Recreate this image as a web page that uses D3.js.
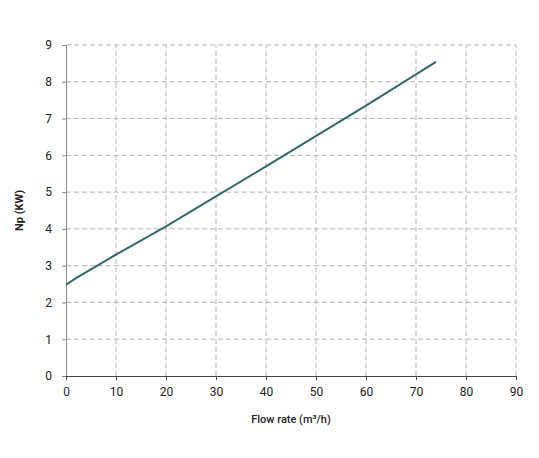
<!DOCTYPE html>
<html><head><meta charset="utf-8">
<script src="https://cdn.jsdelivr.net/npm/d3@7"></script>
<style>body{margin:0;background:#fff;font-family:Roboto,sans-serif}</style>
</head><body><svg id="c" width="539" height="458"></svg>
<script>
const flowRate = [0, 2, 10, 20, 40, 60, 74];
const power = [2.48, 2.66, 3.3, 4.07, 5.7, 7.35, 8.54];
const xTicks = [0,10,20,30,40,50,60,70,80,90];
const yTicks = [0,1,2,3,4,5,6,7,8,9];

const svg = d3.select("#c");
const m = {l:66, r:23, t:45, b:82};
const W = 539, H = 458;
const x = d3.scaleLinear().domain([0,90]).range([m.l, W-m.r]);
const y = d3.scaleLinear().domain([0,9]).range([H-m.b, m.t]);

// grid
const g = svg.append("g");
g.selectAll("line.v").data(xTicks.slice(1)).enter().append("line")
 .attr("x1",d=>x(d)).attr("x2",d=>x(d)).attr("y1",y(0)).attr("y2",y(9))
 .attr("stroke","#b4b4b4").attr("stroke-dasharray","5,3").attr("stroke-width",1);
g.selectAll("line.h").data(yTicks.slice(1)).enter().append("line")
 .attr("x1",x(0)).attr("x2",x(90)).attr("y1",d=>y(d)).attr("y2",d=>y(d))
 .attr("stroke","#b4b4b4").attr("stroke-dasharray","5,3").attr("stroke-width",1);

// axes
const ya = svg.append("g").attr("transform",`translate(${x(0)},0)`)
 .call(d3.axisLeft(y).tickValues(yTicks).tickSize(4).tickPadding(10));
ya.select(".domain").attr("stroke","#8a8a8a");
ya.selectAll(".tick line").attr("stroke","#8a8a8a");
ya.selectAll("text").attr("font-family","Roboto").attr("font-size",12).attr("fill","#222");

const xa = svg.append("g").attr("transform",`translate(0,${y(0)})`)
 .call(d3.axisBottom(x).tickValues(xTicks).tickSize(4).tickPadding(7));
xa.select(".domain").attr("stroke","#444");
xa.selectAll(".tick line").attr("stroke","#444");
xa.selectAll("text").attr("font-family","Roboto").attr("font-size",12).attr("fill","#222");

// line
const data = flowRate.map((f,i)=>[f,power[i]]);
svg.append("path").datum(data)
 .attr("d", d3.line().x(d=>x(d[0])).y(d=>y(d[1])))
 .attr("fill","none").attr("stroke","#2e6a6c").attr("stroke-width",2);

// labels
svg.append("text").attr("x",(x(0)+x(90))/2).attr("y",423).attr("text-anchor","middle")
 .attr("font-family","Roboto").attr("font-size",11).attr("font-weight",500).attr("fill","#222")
 .text("Flow rate (m³/h)");
svg.append("text").attr("transform",`translate(23,${(y(0)+y(9))/2}) rotate(-90)`).attr("text-anchor","middle")
 .attr("font-family","Roboto").attr("font-size",11).attr("font-weight",700).attr("fill","#222")
 .text("Np (KW)");
</script></body></html>
